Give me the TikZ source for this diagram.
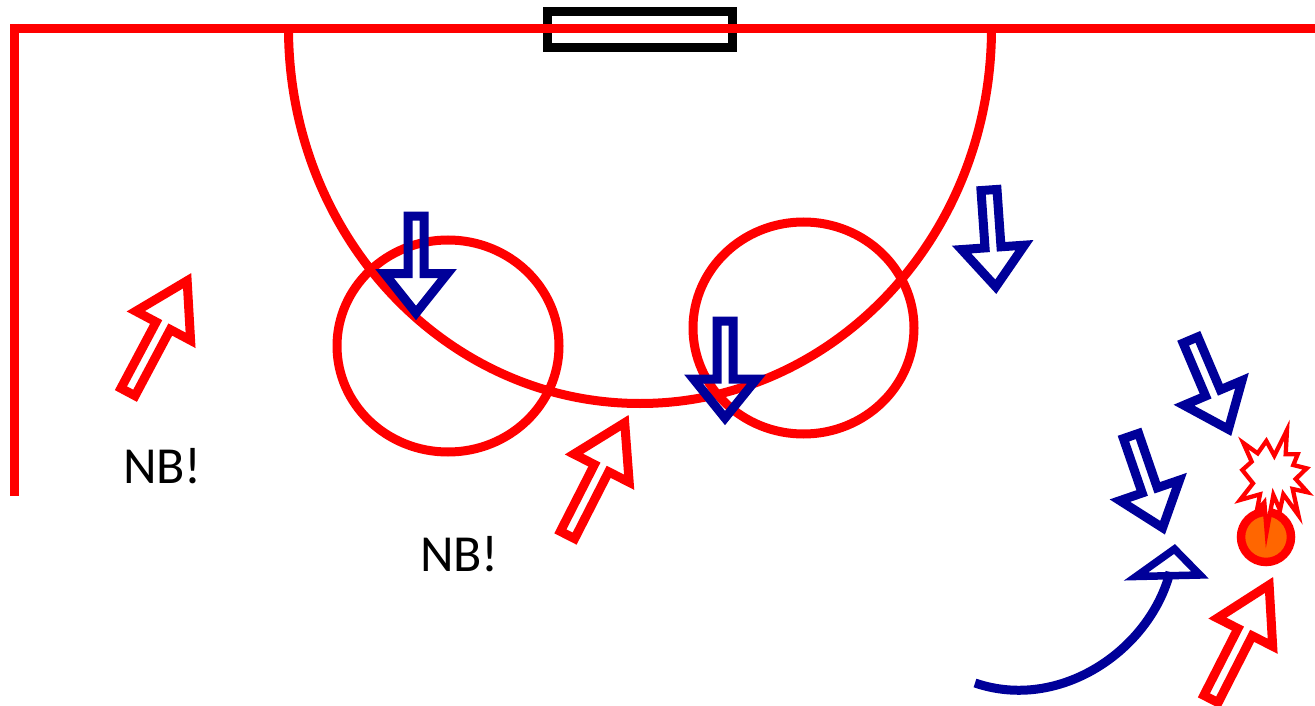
\documentclass[tikz,border=0pt]{standalone}
\usepackage{fontspec}
\setmainfont{Carlito}
\definecolor{navyarrow}{HTML}{000099}
\definecolor{ballorange}{HTML}{FF6600}
\tikzset{
  x=1pt,y=-1pt,
  redline/.style={draw=red,line width=9pt},
  goalbox/.style={draw=black,line width=9pt},
  bluearrow/.style={draw=navyarrow,line width=9pt,miter limit=10},
  redarrow/.style={draw=red,line width=9pt,miter limit=10},
  notelabel/.style={anchor=base,inner sep=0pt,font=\fontsize{52}{56}\selectfont},
  pics/barrow/.style n args={4}{code={
    \draw[#4] (-8,0) -- (-8,#2) -- (-#3,#2) -- (0,#1) -- (#3,#2) -- (8,#2) -- (8,0) -- cycle;
  }}
}
\begin{document}
\begin{tikzpicture}
\useasboundingbox (0,0) rectangle (1315,706);
\clip (0,0) rectangle (1315,706);
\fill[white] (0,0) rectangle (1315,706);
% goal
\draw[goalbox] (547.5,11.7) rectangle (732,47.5);
% field lines
\draw[redline] (14.5,28.3) -- (1315,28.3);
\draw[redline] (14.2,23.8) -- (14.2,496);
\draw[redline] (288.5,28.3) .. controls (288.5,236.5) and (446,403.5) .. (640,403.5)
   .. controls (834,403.5) and (991.5,236.5) .. (991.5,28.3);
% circles
\draw[redline] (448,346) ellipse [x radius=111,y radius=106];
\draw[redline] (803.5,328) ellipse [x radius=110.5,y radius=106];
% blue arrows
\pic[rotate=0] (b1) at (416,216) {barrow={97}{57.5}{31.5}{bluearrow}};
\pic[rotate=0] (b2) at (725,321) {barrow={97}{58}{31.5}{bluearrow}};
\pic[rotate=4] (b3) at (989,190) {barrow={97}{57.5}{31.5}{bluearrow}};
\pic[rotate=23] (b4) at (1190.5,340) {barrow={97}{57.5}{31.5}{bluearrow}};
\pic[rotate=19] (b5) at (1131,436) {barrow={97}{57.5}{31.5}{bluearrow}};
% red arrows
\pic[rotate=152] (r1) at (128,392) {barrow={126}{75}{31}{redarrow}};
\pic[rotate=153] (r2) at (567.5,535) {barrow={126}{75}{31}{redarrow}};
\pic[rotate=153] (r3) at (1211,699) {barrow={128}{75}{31}{redarrow}};
% curved blue arrow
\draw[navyarrow,line width=9pt] (975,683) .. controls (1060,712) and (1150,650) .. (1170,572);
\draw[navyarrow,line width=7.5pt,miter limit=10] (1136,576.5) -- (1200,575) -- (1174.5,549) -- cycle;
% ball
\node[draw=red,fill=ballorange,line width=8.5pt,circle,minimum size=50pt,inner sep=0pt] (ball) at (1266,537) {};
% burst
\begin{scope}[xshift=1225pt,yshift=-415pt,x=0.33333pt,y=-0.33333pt]
\draw[draw=red,fill=white,line width=4.3pt,miter limit=20,line join=miter]
  (55,84) -- (98,115) -- (124,78) -- (148,122) -- (186,45) -- (182,118) -- (218,118)
  -- (205,150) -- (245,160) -- (212,192) -- (248,232) -- (203,222) -- (220,300)
  -- (175,238) -- (165,285) -- (145,240) -- (125,350) -- (118,262) -- (95,290)
  -- (105,238) -- (45,255) -- (84,205) -- (52,165) -- (80,140) -- cycle;
\end{scope}
% labels
\node[notelabel] (nb1) at (162.5,483) {NB!};
\node[notelabel] (nb2) at (459.5,571) {NB!};
\end{tikzpicture}
\end{document}
